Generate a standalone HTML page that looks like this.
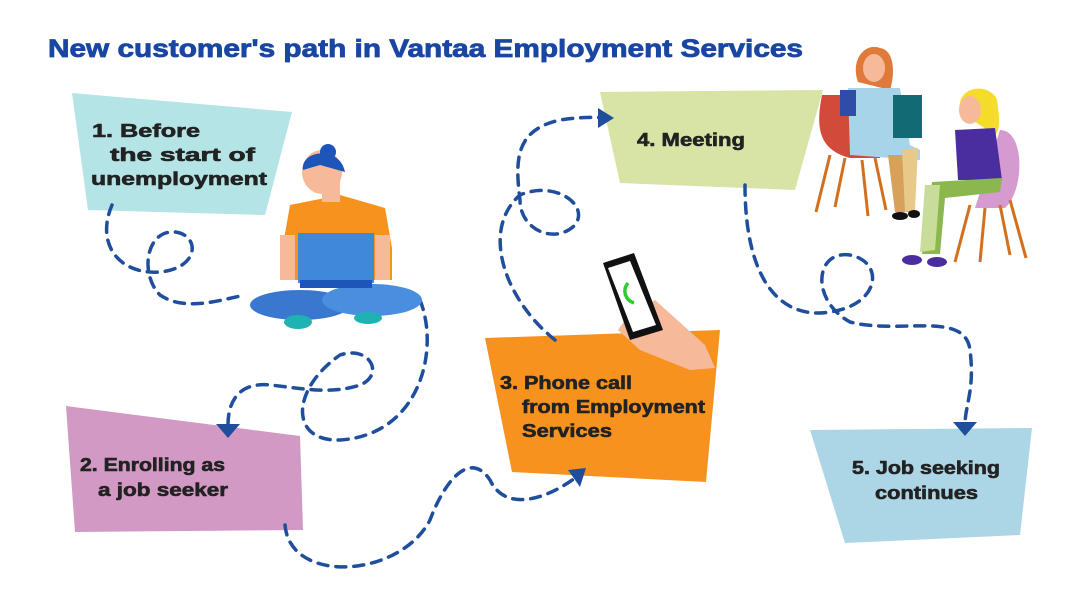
<!DOCTYPE html>
<html><head><meta charset="utf-8"><style>
html,body{margin:0;padding:0;background:#fff;}
svg{display:block}
text{font-family:"Liberation Sans",sans-serif;font-weight:bold}
</style></head><body>
<svg width="1080" height="608" viewBox="0 0 1080 608" xmlns="http://www.w3.org/2000/svg">
<text x="48" y="57" font-size="25" fill="#1946a3" stroke="#1946a3" stroke-width="0.8" textLength="755" lengthAdjust="spacingAndGlyphs">New customer's path in Vantaa Employment Services</text>

<polygon points="72,93 292,112 265,215 88,210" fill="#b5e4e6"/>
<polygon points="66,406 300,436 303,530 75,532" fill="#d199c4"/>
<polygon points="485,338 720,330 706,482 512,472" fill="#f7921e"/>
<polygon points="600,92 823,90 795,190 620,183" fill="#d7e4a6"/>
<polygon points="810,430 1032,428 1020,535 845,543" fill="#acd5e6"/>

<g font-size="18" fill="#222" stroke="#222" stroke-width="0.6">
<text x="92" y="137" textLength="108" lengthAdjust="spacingAndGlyphs">1. Before</text>
<text x="110" y="161" textLength="145" lengthAdjust="spacingAndGlyphs">the start of</text>
<text x="91" y="185" textLength="176" lengthAdjust="spacingAndGlyphs">unemployment</text>
<text x="80" y="471" textLength="145" lengthAdjust="spacingAndGlyphs">2. Enrolling as</text>
<text x="98" y="496" textLength="130" lengthAdjust="spacingAndGlyphs">a job seeker</text>
<text x="500" y="389" textLength="132" lengthAdjust="spacingAndGlyphs">3. Phone call</text>
<text x="522" y="413" textLength="183" lengthAdjust="spacingAndGlyphs">from Employment</text>
<text x="522" y="437" textLength="90" lengthAdjust="spacingAndGlyphs">Services</text>
<text x="637" y="146" textLength="108" lengthAdjust="spacingAndGlyphs">4. Meeting</text>
<text x="852" y="474" textLength="148" lengthAdjust="spacingAndGlyphs">5. Job seeking</text>
<text x="875" y="499" textLength="103" lengthAdjust="spacingAndGlyphs">continues</text>
</g>

<g fill="none" stroke="#1f4e9c" stroke-width="3.5" stroke-dasharray="10 8" stroke-linecap="round">
<path d="M112,205 C95,245 120,275 160,272 C200,268 200,235 175,232 C145,230 140,275 160,295 C185,312 220,300 245,295"/>
<path d="M420,300 C440,350 420,435 340,440 C290,442 290,390 340,355 C370,345 385,375 360,385 C330,395 300,388 270,385 C240,382 228,400 228,425"/>
<path d="M285,525 C290,585 400,578 430,520 C445,480 470,450 490,480 C505,512 545,500 575,478"/>
<path d="M555,340 C505,300 480,230 520,195 C555,180 590,205 575,225 C555,245 520,230 520,200 C515,160 515,130 560,120 C580,117 595,117 605,118"/>
<path d="M745,185 C745,280 780,320 830,312 C880,305 885,262 850,255 C815,250 810,300 850,322 C900,335 965,310 970,350 C975,390 965,405 965,425"/>
</g>
<g fill="#1f4e9c">
<polygon points="216,424 240,424 228,438"/>
<polygon points="568,470 586,468 580,487"/>
<polygon points="598,108 614,118 598,128"/>
<polygon points="953,422 977,422 965,436"/>
</g>

<g>
<ellipse cx="300" cy="305" rx="50" ry="15" fill="#3a78d0"/>
<ellipse cx="372" cy="300" rx="50" ry="16" fill="#4a8ee0"/>
<polygon points="283,245 290,205 340,195 385,208 392,248 392,280 283,280" fill="#f7921e"/>
<rect x="280" y="235" width="15" height="45" fill="#f6b99a"/>
<rect x="375" y="235" width="15" height="45" fill="#f6b99a"/>
<rect x="298" y="233" width="76" height="50" fill="#3f88da"/>
<rect x="300" y="280" width="72" height="8" fill="#1e55b8"/>
<rect x="322" y="180" width="18" height="22" fill="#f6b99a"/>
<ellipse cx="322" cy="172" rx="20" ry="22" fill="#f6b99a"/>
<path d="M303,170 C300,150 340,145 345,172 L320,165 Z" fill="#1e55b8"/>
<circle cx="328" cy="152" r="8" fill="#1e55b8"/>
<ellipse cx="298" cy="322" rx="14" ry="7" fill="#1fb2b2"/>
<ellipse cx="368" cy="318" rx="14" ry="6" fill="#1fb2b2"/>
</g>

<g>
<polygon points="625,320 655,300 705,345 715,368 690,370 640,350 618,330" fill="#f6b99a"/>
<polygon points="603,263 634,253 663,330 630,340" fill="#111"/>
<polygon points="608,268 630,261 656,325 633,332" fill="#fff"/>
<path d="M628,283 C622,290 625,300 634,303" stroke="#2fcc2f" stroke-width="3.5" fill="none"/>
</g>

<g>
<path d="M822,95 C815,130 820,150 850,158 L880,158 L880,95 Z" fill="#d24a3a"/>
<g stroke="#d2701e" stroke-width="3">
<line x1="830" y1="155" x2="816" y2="212"/><line x1="845" y1="158" x2="835" y2="207"/>
<line x1="862" y1="160" x2="868" y2="216"/><line x1="875" y1="158" x2="886" y2="210"/>
</g>
<path d="M858,82 C850,60 865,42 880,48 C895,50 895,75 890,90 Z" fill="#e07a3a"/>
<ellipse cx="874" cy="68" rx="11" ry="14" fill="#f6b99a"/>
<polygon points="848,88 900,88 910,145 920,150 920,160 850,155" fill="#a8d4ea"/>
<rect x="840" y="90" width="16" height="26" fill="#2e4ca8"/>
<rect x="893" y="95" width="29" height="43" fill="#126a74"/>
<polygon points="888,155 905,155 912,212 895,212" fill="#d7a15a"/>
<polygon points="902,150 918,148 915,210 905,212" fill="#e9c98a"/>
<ellipse cx="900" cy="216" rx="8" ry="4" fill="#111"/>
<ellipse cx="914" cy="214" rx="6" ry="4" fill="#111"/>
<path d="M1000,130 C1025,130 1025,190 1005,208 L975,208 L1000,130 Z" fill="#d59ad0"/>
<g stroke="#d2701e" stroke-width="3">
<line x1="970" y1="205" x2="955" y2="262"/><line x1="985" y1="208" x2="980" y2="262"/>
<line x1="1000" y1="205" x2="1010" y2="255"/><line x1="1010" y1="200" x2="1026" y2="258"/>
</g>
<path d="M960,112 C955,85 990,82 997,100 C1000,120 1000,130 995,135 Z" fill="#f5dc2a"/>
<ellipse cx="970" cy="110" rx="11" ry="14" fill="#f6b99a"/>
<polygon points="955,130 995,128 1002,180 958,180" fill="#4a2ea0"/>
<polygon points="932,182 1002,178 1000,192 945,198 940,254 922,254" fill="#8ab84f"/>
<polygon points="925,185 940,185 935,250 920,252" fill="#c9dd9a"/>
<ellipse cx="912" cy="260" rx="10" ry="5" fill="#4a2ea0"/>
<ellipse cx="937" cy="262" rx="10" ry="5" fill="#4a2ea0"/>
</g>
</svg>
</body></html>
